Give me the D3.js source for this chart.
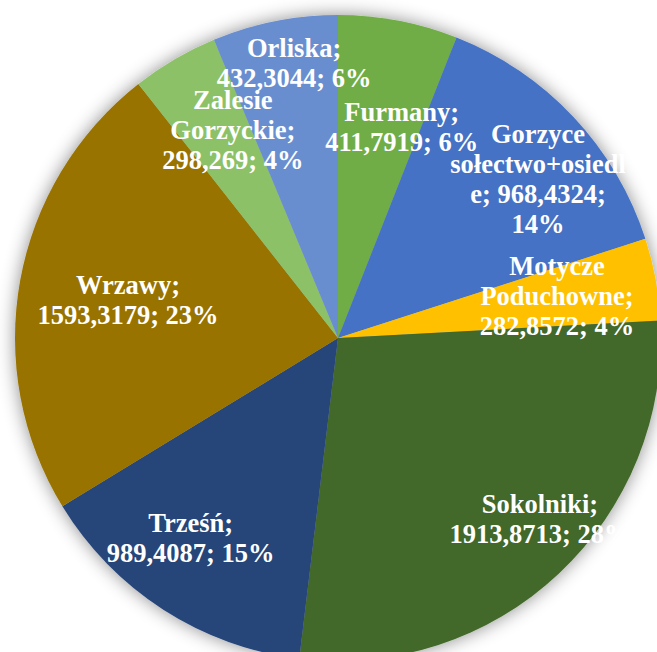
<!DOCTYPE html>
<html lang="pl">
<head>
  <meta charset="UTF-8">
  <title>Pie chart</title>
  <script src="https://d3js.org/d3.v7.min.js"></script>
  <style>
    body {margin: 0; padding: 0; background: #fff;}
    #chart svg {display: block;}
    .label text {font-family: "Liberation Serif", "Times New Roman", serif; font-weight: bold; font-size: 26.5px; fill: #fff;}
  </style>
</head>
<body>
  <div id="chart"></div>
  <script>
    // data
    const names = ["Furmany", "Gorzyce sołectwo+osiedle", "Motycze Poduchowne", "Sokolniki",
                   "Trześń", "Wrzawy", "Zalesie Gorzyckie", "Orliska"];
    const values = [411.7919, 968.4324, 282.8572, 1913.8713, 989.4087, 1593.3179, 298.269, 432.3044];
    const colors = ["#70AD47", "#4472C4", "#FFC000", "#43682B", "#264478", "#997300", "#8CC168", "#698ED0"];

    // label placement: radius as share of pie radius, angle nudge (deg), wrap width (px)
    const labelRadius = [0.68, 0.79, 0.69, 0.84, 0.77, 0.66, 0.72, 0.86];
    const labelNudge  = [6.1, 4.8, -0.2, -5, 3.6, -0.2, 3.5, 2.2];
    const labelWrap   = [188, 177, 163, 188, 188, 188, 153, 188];

    const width = 657, height = 652;
    const cx = 338, cy = 338, radius = 323;
    const lineH = 30;

    const svg = d3.select("#chart").append("svg")
      .attr("width", width).attr("height", height);

    const defs = svg.append("defs");
    const f = defs.append("filter").attr("id", "shadow")
      .attr("x", "-15%").attr("y", "-15%").attr("width", "130%").attr("height", "130%");
    f.append("feDropShadow").attr("dx", 0).attr("dy", 0)
      .attr("stdDeviation", 9).attr("flood-color", "#000").attr("flood-opacity", 0.45);

    const g = svg.append("g").attr("transform", `translate(${cx},${cy})`);

    const pie = d3.pie().sort(null).value(d => d.value);
    const data = names.map((n, i) => ({name: n, value: values[i], i}));
    const arcs = pie(data);
    const arc = d3.arc().innerRadius(0).outerRadius(radius);

    g.append("g").attr("filter", "url(#shadow)")
      .selectAll("path").data(arcs).join("path")
        .attr("d", arc)
        .attr("fill", d => colors[d.data.i]);

    // percentages as Excel shows them (largest remainder, sum 100)
    const total = d3.sum(values);
    const raw = values.map(v => v / total * 100);
    const pct = raw.map(Math.floor);
    let left = 100 - d3.sum(pct);
    raw.map((r, i) => [r - Math.floor(r), i])
      .sort((a, b) => b[0] - a[0])
      .slice(0, left).forEach(([, i]) => pct[i] += 1);

    const fmt = v => String(v).replace(".", ",");

    // measuring helper
    const labels = g.append("g").attr("class", "label");
    const probe = labels.append("text").attr("visibility", "hidden");
    const textW = s => { probe.text(s); return probe.node().getComputedTextLength(); };

    function wrap(str, maxW) {
      const words = str.split(" ");
      const lines = [];
      let cur = "";
      words.forEach(w => {
        const tryLine = cur ? cur + " " + w : w;
        if (textW(tryLine) <= maxW) { cur = tryLine; return; }
        if (cur) { lines.push(cur); cur = ""; }
        // word too long alone: break by character
        let rest = w;
        while (textW(rest) > maxW) {
          let k = rest.length - 1;
          while (k > 1 && textW(rest.slice(0, k)) > maxW) k--;
          lines.push(rest.slice(0, k));
          rest = rest.slice(k);
        }
        cur = rest;
      });
      if (cur) lines.push(cur);
      return lines;
    }

    arcs.forEach(a => {
      const i = a.data.i;
      const str = `${a.data.name}; ${fmt(a.data.value)}; ${pct[i]}%`;
      const lines = wrap(str, labelWrap[i]);
      const ang = (a.startAngle + a.endAngle) / 2 + labelNudge[i] * Math.PI / 180;
      const rr = radius * labelRadius[i];
      const x = rr * Math.sin(ang), y = -rr * Math.cos(ang);
      const y0 = y - (lines.length - 1) * lineH / 2 + 8.5;
      const t = labels.append("text").attr("text-anchor", "middle");
      lines.forEach((l, k) => {
        t.append("tspan").attr("x", x).attr("y", y0 + k * lineH).text(l);
      });
    });
    probe.remove();
  </script>
</body>
</html>
